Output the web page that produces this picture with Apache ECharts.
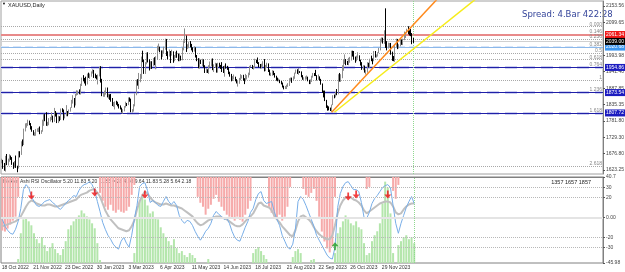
<!DOCTYPE html>
<html>
<head>
<meta charset="utf-8">
<script src="https://cdn.jsdelivr.net/npm/echarts@6/dist/echarts.min.js"></script>
<style>html,body{margin:0;padding:0;background:#fff}#chart{width:625px;height:272px}</style>
</head>
<body>
<div id="chart"></div>
<script>
// XAUUSD daily bars, 18 Oct 2022 .. 4 Jan 2024
var firstOpen = 1650;
var closes = [
  1652,1629,1627,1657,1649,1652,1665,1663,1644,1633,
  1647,1635,1629,1681,1676,1712,1706,1755,1771,1771,1778,1774,1761,1751,1738,1740,1750,1755,1755,1741,1750,1768,
  1803,1797,1769,1771,1787,1789,1797,1781,1810,1807,1777,1793,1788,1817,1814,1792,1798,1813,1804,1815,1824,
  1839,1855,1833,1866,1872,1876,1875,1898,1920,1916,1909,1904,1932,1926,1931,1937,1946,1930,1928,1923,1928,
  1951,1912,1865,1867,1873,1875,1861,1865,1854,1853,1835,1836,1842,1841,1834,1825,1822,1811,1817,1827,
  1837,1836,1856,1847,1813,1815,1831,1868,1913,1904,1918,1920,1989,1978,1940,1970,1993,1978,1956,1973,1964,1980,1969,
  1984,2020,2021,2008,1992,2004,2015,2040,2004,1995,2005,1996,2004,1983,1989,1998,1990,1988,1990,
  1982,2016,2039,2050,2017,2021,2034,2030,2015,2011,2017,1989,1982,1958,1977,1971,1975,1957,1941,1946,1943,1959,1963,
  1978,1948,1962,1963,1940,1966,1961,1957,1943,1942,1958,1957,1951,1936,1932,1913,1921,1923,1913,1907,1908,1919,
  1921,1926,1915,1911,1925,1925,1932,1957,1961,1955,1955,1979,1976,1969,1962,1954,1965,1972,1946,1959,1965,
  1944,1934,1934,1943,1936,1925,1915,1912,1914,1907,1902,1892,1889,1889,1895,1899,1915,1917,1914,1920,1937,1942,1940,
  1940,1939,1926,1916,1919,1919,1922,1913,1908,1910,1924,1933,1931,1930,1919,1925,1916,1901,1875,1864,1848,
  1827,1822,1821,1820,1833,1862,1861,1874,1868,1932,1919,1923,1948,1974,1981,1972,1970,1979,1985,2006,1996,1983,
  1982,1985,1992,1978,1969,1950,1958,1940,1946,1963,1959,1981,1980,1978,2007,1990,1992,2002,2013,2041,2044,2036,
  2072,2029,2019,2025,2028,2004,1982,1980,2027,2036,2019,2027,2040,2031,2045,2053,2067,2077,2065,2063,
  2059,2042,2039
];
var highs = [
  1660,1656,1646,1669,1675,1660,1674,1670,1665,1648,
  1652,1670,1637,1684,1684,1716,1722,1757,1774,1775,1786,1783,1775,1765,1752,1745,1756,1758,1760,1764,1752,1786,
  1805,1804,1810,1779,1791,1795,1810,1799,1824,1814,1808,1799,1797,1822,1823,1819,1804,1833,1814,1819,1826,
  1850,1865,1856,1869,1881,1880,1884,1902,1922,1930,1921,1925,1935,1938,1935,1942,1949,1947,1935,1930,1932,
  1957,1959,1918,1873,1880,1890,1890,1870,1868,1869,1856,1843,1845,1847,1844,1837,1832,1825,1820,1830,
  1844,1840,1858,1858,1854,1820,1836,1871,1915,1917,1937,1934,1990,2009,1980,1972,2003,2004,1981,1975,1975,1985,1988,
  1991,2025,2032,2022,2010,2010,2022,2048,2047,2007,2013,2008,2012,2007,1995,2005,2009,2000,1998,
  1993,2020,2042,2081,2058,2030,2037,2040,2031,2020,2023,2020,1995,1985,1984,1980,1983,1981,1962,1952,1949,1962,1974,
  1983,1984,1965,1970,1968,1970,1970,1963,1972,1959,1961,1968,1960,1955,1941,1934,1927,1932,1925,1917,1912,1921,
  1933,1930,1931,1920,1934,1930,1938,1960,1963,1963,1959,1983,1980,1987,1972,1966,1967,1975,1982,1963,1970,
  1968,1948,1938,1946,1944,1937,1928,1922,1919,1915,1911,1906,1896,1895,1899,1904,1920,1922,1922,1926,1938,1948,1949,
  1953,1943,1942,1930,1923,1926,1929,1925,1915,1916,1928,1937,1937,1947,1930,1932,1926,1918,1903,1880,1880,
  1850,1832,1829,1825,1835,1865,1867,1876,1885,1933,1937,1933,1962,1980,1997,1982,1976,1986,1989,2009,2009,2008,
  1990,1993,2004,1994,1980,1972,1962,1961,1948,1972,1970,1983,1993,1984,2008,2008,1997,2004,2018,2048,2052,2051,
  2075,2146,2040,2035,2034,2034,2006,1992,2030,2048,2047,2030,2047,2045,2048,2071,2069,2080,2088,2075,
  2079,2066,2050
];
var lows = [
  1645,1627,1621,1618,1639,1638,1650,1656,1640,1627,
  1631,1630,1616,1628,1664,1672,1700,1704,1748,1760,1766,1768,1754,1747,1735,1733,1734,1747,1746,1739,1740,1747,
  1766,1781,1766,1765,1768,1780,1785,1777,1779,1796,1775,1775,1781,1785,1810,1784,1790,1797,1797,1803,1812,
  1826,1838,1825,1832,1864,1866,1868,1867,1895,1910,1903,1896,1900,1921,1918,1925,1935,1921,1920,1916,1900,
  1926,1906,1862,1860,1860,1867,1858,1853,1850,1844,1830,1827,1819,1834,1829,1822,1819,1809,1805,1813,
  1825,1830,1833,1844,1810,1809,1812,1829,1865,1896,1885,1907,1918,1972,1934,1934,1965,1971,1945,1950,1950,1960,1962,
  1949,1980,2009,2004,1981,1989,2000,2012,1992,1981,1990,1969,1993,1970,1975,1986,1986,1975,1975,
  1977,1978,2010,2034,2005,2014,2017,2020,2010,2004,2006,1987,1975,1952,1951,1966,1959,1955,1937,1937,1937,1934,1955,
  1958,1946,1940,1953,1938,1938,1955,1950,1940,1937,1925,1951,1947,1933,1925,1910,1911,1916,1910,1903,1893,1902,
  1913,1919,1912,1901,1910,1916,1922,1930,1955,1950,1948,1953,1969,1966,1955,1952,1952,1957,1942,1943,1953,
  1940,1929,1927,1928,1930,1922,1912,1910,1910,1904,1900,1890,1884,1885,1885,1892,1895,1910,1905,1912,1918,1935,1934,
  1931,1937,1923,1915,1913,1915,1916,1910,1901,1901,1908,1922,1927,1927,1913,1915,1912,1899,1873,1858,1846,
  1824,1815,1816,1814,1810,1834,1855,1858,1865,1868,1909,1908,1920,1944,1966,1962,1963,1962,1970,1977,1990,1980,
  1970,1975,1983,1975,1961,1947,1946,1938,1932,1938,1956,1954,1975,1965,1975,1987,1987,1990,2001,2010,2036,2032,
  2031,2018,2010,2016,2019,1996,1976,1975,1973,2020,2014,2016,2023,2028,2027,2043,2050,2065,2062,2058,
  2056,2030,2034
];
var holidays = ['2022-12-26', '2023-01-02', '2023-04-07', '2023-12-25', '2024-01-01'];
var xTickLabels = ['18 Oct 2022', '21 Nov 2022', '23 Dec 2022', '30 Jan 2023', '3 Mar 2023', '6 Apr 2023',
  '11 May 2023', '14 Jun 2023', '18 Jul 2023', '21 Aug 2023', '22 Sep 2023', '26 Oct 2023', '29 Nov 2023'];
var priceTicks = [2153.56, 2099.65, 1993.98, 1941.40, 1887.85, 1835.35, 1781.80, 1729.30, 1676.80, 1623.25];

// fibonacci grid drawn on the chart
var fibHigh = 2086.5, fibLow = 1914.2;
var fibLevels = [0, 0.146, 0.236, 0.382, 0.5, 0.618, 0.764, 1, 1.236, 1.618, 2.618];
var fibNames = ['0.000', '0.146', '0.236', '0.382', '0.5', '0.618', '0.764', '1', '1.236', '1.618', '2.618'];

// trend lines: [bar index, price]
var orangeLine = [[250, 1810], [340, 2222]];
var yellowLine = [[252, 1810], [360, 2179]];

// oscillator, one point per 2 bars
var blueLine = [-2,-9,-13,-16,-17,-12,-4,9,28,33,30,21,16,12,11,13,16,17,18,15,13,10,8,11,14,17,19,22,21,27,
  31,33,34,36,33,27,16,6,-5,-12,-18,-22,-27,-30,-32,-24,-20,-26,-30,-18,-2,12,31,34,35,27,15,17,15,12,
  11,16,21,16,13,16,12,2,-3,-6,-3,-4,-8,-14,-19,-23,-19,-14,-11,-6,2,6,3,1,-2,-1,-6,-14,-20,-23,
  -24,-17,-10,-4,5,9,18,24,26,17,14,15,16,6,-2,-8,-18,-24,-30,-32,-27,-12,16,21,18,12,5,-2,-9,-18,
  -23,-28,-33,-38,-41,-42,-30,10,24,31,35,36,32,28,28,26,15,0,-1,5,14,19,22,26,30,32,33,30,12,-6,
  -16,-6,2,10,16,21,14];
var greyLine = [-9,-8,-7,-6,-5,-4,-2,1,6,11,15,17,16,14,13,12,12,13,13,12,11,11,12,13,14,15,16,17,18,21,
  23,24,25,27,28,28,25,21,14,7,2,-2,-5,-8,-11,-12,-13,-14,-13,-9,-3,8,16,22,26,24,20,17,15,14,
  13,13,14,13,12,12,11,10,9,7,5,3,1,-3,-6,-8,-7,-5,-3,-2,0,1,1,0,-1,-2,-4,-6,-8,-9,
  -9,-7,-4,-1,1,4,9,14,15,12,11,10,7,2,-2,-5,-9,-12,-15,-18,-19,-13,-4,1,2,0,-2,-5,-10,-14,
  -17,-19,-21,-22,-22,-18,-8,4,12,17,20,21,20,18,17,15,12,7,4,6,8,10,12,14,15,16,16,15,11,5,
  3,4,8,11,13,14,14];
var redHist = [54,55,52,48,44,40,20,0,0,0,0,0,0,0,0,0,0,0,0,0,0,0,0,0,0,0,0,0,0,0,
  0,0,0,0,0,0,0,16,24,30,33,28,34,36,33,35,36,34,30,18,8,0,0,0,0,0,0,0,0,0,
  0,0,0,0,0,0,0,0,0,0,0,0,0,0,20,26,30,38,32,28,22,18,25,30,34,38,40,42,44,40,
  43,45,38,32,24,0,0,0,0,0,0,30,36,40,42,38,44,40,30,10,0,0,0,0,12,18,20,16,12,24,
  40,55,65,72,76,70,20,0,0,0,0,0,0,0,0,0,0,0,12,10,0,0,0,0,0,0,0,0,14,22,
  8,0,0,0,0,0,0];
var greenHist = [0,0,0,0,0,0,4,30,44,45,42,38,30,24,20,26,18,12,16,20,14,10,8,14,22,34,38,42,45,48,
  53,50,47,44,40,35,20,3,0,0,0,0,0,0,0,0,0,0,0,0,10,45,62,68,64,58,50,52,46,44,
  36,30,26,22,18,24,15,10,12,8,6,10,8,5,0,0,0,0,4,0,0,0,0,0,0,0,0,0,0,0,
  0,0,0,0,0,10,14,16,12,8,4,0,0,0,0,0,0,0,0,0,6,12,14,10,0,0,0,3,4,0,
  0,0,0,0,0,0,10,30,36,42,48,44,40,38,42,36,34,20,8,10,22,28,32,40,60,82,76,50,10,0,
  18,22,26,28,24,26,20];
var sellArrows = [[11, 22], [35, 25], [54, 23], [131, 21], [134, 23], [146, 23]];
var buyArrows = [[126, -29]];
var oscTicks = [40.7, 30, 20, 0, -20, -30, -45.98];
var oscLevels = [30, 20, -20, -30];

var FONT = 'Liberation Sans';
var MONTHS = ['Jan','Feb','Mar','Apr','May','Jun','Jul','Aug','Sep','Oct','Nov','Dec'];
var TOTAL_SLOTS = 456;

// trading-day calendar for the category axis
var days = [];
var d = new Date(Date.UTC(2022, 9, 18));
while (days.length < closes.length) {
  var wd = d.getUTCDay();
  if (wd !== 0 && wd !== 6 && holidays.indexOf(d.toISOString().slice(0, 10)) < 0) {
    days.push(d.getUTCDate() + ' ' + MONTHS[d.getUTCMonth()] + ' ' + d.getUTCFullYear());
  }
  d.setUTCDate(d.getUTCDate() + 1);
}
var cats = days.slice();
for (var i = days.length; i < TOTAL_SLOTS; i++) cats.push('f' + i);
var oscCats = [];
for (var j = 0; j < TOTAL_SLOTS / 2; j++) oscCats.push('j' + j);

// open = previous close
var candles = closes.map(function (c, i) {
  var o = i === 0 ? firstOpen : closes[i - 1];
  return [o, c, Math.min(lows[i], o, c), Math.max(highs[i], o, c)];
});
var lastIdx = closes.length - 1;
var lastOsc = blueLine.length - 1;

function fibPrice(f) { return fibHigh - f * (fibHigh - fibLow); }

function boxLine(f, color, bg, width) {
  var p = fibPrice(f);
  return {
    yAxis: p,
    lineStyle: { color: color, width: width, type: 'solid' },
    label: { show: true, position: 'end', distance: 2, formatter: p.toFixed(2),
      backgroundColor: bg, color: '#fff', fontSize: 5, fontFamily: FONT, padding: [1, 1] }
  };
}

var chart = echarts.init(document.getElementById('chart'));
var option = {
  animation: false,
  backgroundColor: '#fff',
  grid: [
    { left: 1, top: 1, width: 602, height: 173, show: true, borderColor: '#a0a0a0', borderWidth: 1, outerBoundsMode: 'none' },
    { left: 1, top: 177, width: 602, height: 86, show: true, borderColor: '#808080', borderWidth: 1, outerBoundsMode: 'none' }
  ],
  xAxis: [
    { type: 'category', gridIndex: 0, data: cats, axisLine: { show: false }, axisTick: { show: false }, axisLabel: { show: false }, splitLine: { show: false } },
    { type: 'category', gridIndex: 1, data: oscCats, show: false },
    { type: 'category', gridIndex: 1, data: cats, position: 'bottom',
      axisLine: { lineStyle: { color: '#808080' } },
      axisTick: { length: 2, lineStyle: { color: '#555' }, interval: function (i, v) { return xTickLabels.indexOf(v) >= 0; } },
      axisLabel: { fontSize: 5, fontFamily: FONT, color: '#333', margin: 2, align: 'left',
        interval: function (i, v) { return xTickLabels.indexOf(v) >= 0; } },
      splitLine: { show: false } }
  ],
  yAxis: [
    { type: 'value', gridIndex: 0, position: 'right', min: 1610.3, max: 2169.7, scale: true,
      axisLine: { show: true, lineStyle: { color: '#808080' } },
      axisTick: { show: true, length: 2, customValues: priceTicks, lineStyle: { color: '#555' } },
      axisLabel: { customValues: priceTicks, fontSize: 5, fontFamily: FONT, color: '#444', margin: 3,
        formatter: function (v) { return v.toFixed(2); } },
      splitLine: { show: false } },
    { type: 'value', gridIndex: 1, position: 'right', min: -45.98, max: 40.7,
      axisLine: { show: true, lineStyle: { color: '#808080' } },
      axisTick: { show: true, length: 2, customValues: oscTicks, lineStyle: { color: '#555' } },
      axisLabel: { customValues: oscTicks, fontSize: 5, fontFamily: FONT, color: '#444', margin: 3,
        formatter: function (v) { return v === 0 ? '0.00' : String(v); } },
      splitLine: { show: false } },
    { type: 'value', gridIndex: 1, inverse: true, min: 0, max: 86.68, show: false },
    { type: 'value', gridIndex: 1, min: 0, max: 86.68, show: false }
  ],
  series: [
    {
      type: 'line', xAxisIndex: 0, yAxisIndex: 0, data: [], silent: true,
      markLine: {
        silent: true, symbol: ['none', 'none'], animation: false,
        lineStyle: { color: '#a8a8a8', type: 'dotted', width: 1 },
        label: { show: true, position: 'insideEndTop', distance: [1, 0], fontSize: 5, fontFamily: FONT, color: '#888' },
        data: fibLevels.map(function (f, i) {
          return { yAxis: fibPrice(f), label: { formatter: fibNames[i] } };
        })
      }
    },
    {
      type: 'line', xAxisIndex: 0, yAxisIndex: 0, data: [], silent: true,
      markLine: {
        silent: true, symbol: ['none', 'none'], animation: false,
        data: [
          { yAxis: fibPrice(0.764), lineStyle: { color: '#cdd0f0', width: 3 }, label: { show: false } },
          { yAxis: fibPrice(1.236), lineStyle: { color: '#cdd0f0', width: 3 }, label: { show: false } },
          { yAxis: fibPrice(1.618), lineStyle: { color: '#cdd0f0', width: 3 }, label: { show: false } },
          { yAxis: fibPrice(0.382), lineStyle: { color: '#d8e6f8', width: 2 }, label: { show: false } }
        ]
      }
    },
    {
      type: 'line', xAxisIndex: 0, yAxisIndex: 0, data: [], silent: true, z: 4,
      markLine: {
        silent: true, symbol: ['none', 'none'], animation: false,
        data: [
          boxLine(0.146, '#e88a8a', '#f01818', 2),
          boxLine(0.382, '#8cb8ea', '#3c96f0', 1),
          boxLine(0.764, '#2020a8', '#1c1cc0', 1.2),
          boxLine(1.236, '#2020a8', '#1c1cc0', 1.2),
          boxLine(1.618, '#2020a8', '#1c1cc0', 1.2),
          { yAxis: closes[lastIdx], lineStyle: { color: '#d0d0d0', width: 1, type: 'solid' },
            label: { show: true, position: 'end', distance: 2, formatter: closes[lastIdx].toFixed(2),
              backgroundColor: '#000', color: '#fff', fontSize: 5, fontFamily: FONT, padding: [1, 1] } }
        ]
      }
    },
    {
      type: 'candlestick', xAxisIndex: 0, yAxisIndex: 0, data: candles, barWidth: 1, z: 5,
      itemStyle: { color: '#8e8e8e', color0: '#000', borderColor: '#8e8e8e', borderColor0: '#000', borderWidth: 1 },
      markLine: {
        silent: true, symbol: ['none', 'none'], animation: false,
        lineStyle: { color: '#8fd88f', type: 'dotted', width: 1 },
        label: { show: false },
        data: [{ xAxis: lastIdx }]
      }
    },
    { type: 'line', xAxisIndex: 0, yAxisIndex: 0, data: orangeLine, showSymbol: false, z: 6,
      lineStyle: { color: '#ff8a1c', width: 1.5 } },
    { type: 'line', xAxisIndex: 0, yAxisIndex: 0, data: yellowLine, showSymbol: false, z: 6,
      lineStyle: { color: '#f6ec1a', width: 1.5 } },

    { type: 'bar', xAxisIndex: 1, yAxisIndex: 2, data: redHist, barWidth: 2, barGap: '-100%',
      itemStyle: { color: '#f6aaaa' } },
    { type: 'bar', xAxisIndex: 1, yAxisIndex: 3, data: greenHist, barWidth: 2, barGap: '-100%',
      itemStyle: { color: '#b4e6ac' } },
    { type: 'line', xAxisIndex: 1, yAxisIndex: 1, data: greyLine, showSymbol: false, z: 3,
      lineStyle: { color: '#c0c0c0', width: 2 },
      markLine: {
        silent: true, symbol: ['none', 'none'], animation: false, label: { show: false },
        data: oscLevels.map(function (v) {
          return { yAxis: v, lineStyle: { color: '#b8b8b8', type: 'dotted', width: 1 } };
        }).concat([{ yAxis: 0, lineStyle: { color: '#e4e4e4', type: 'solid', width: 2 } },
          { xAxis: lastOsc, lineStyle: { color: '#8fd88f', type: 'dotted', width: 1 } }])
      } },
    { type: 'line', xAxisIndex: 1, yAxisIndex: 1, data: blueLine, showSymbol: false, z: 4,
      lineStyle: { color: '#78aee8', width: 1 } },
    { type: 'scatter', xAxisIndex: 1, yAxisIndex: 1, data: sellArrows, z: 6,
      symbol: 'path://M3,0 L5,0 L5,5 L8,5 L4,10 L0,5 L3,5 Z', symbolSize: [7, 8],
      itemStyle: { color: '#f01010' } },
    { type: 'scatter', xAxisIndex: 1, yAxisIndex: 1, data: buyArrows, z: 6,
      symbol: 'path://M3,10 L5,10 L5,5 L8,5 L4,0 L0,5 L3,5 Z', symbolSize: [7, 8],
      itemStyle: { color: '#22a022' } }
  ],
  graphic: [
    { type: 'text', left: 2, top: 2, style: { text: '▼', fontSize: 4, fill: '#000' } },
    { type: 'text', left: 8, top: 2, style: { text: 'XAUUSD,Daily', fontSize: 5.5, fontFamily: FONT, fill: '#222' } },
    { type: 'text', left: 522, top: 10, style: { text: 'Spread: 4.Bar 422:28', fontSize: 8.5, fontFamily: 'DejaVu Sans', fill: '#34449a' } },
    { type: 'text', left: 3, top: 179, style: { text: 'Heiken Ashi RSI Oscillator 5.20 11.83 5.20 11.83 = 28 4.08 9.64 11.83 5.28 5.64 2.18', fontSize: 5, fontFamily: FONT, fill: '#333' } },
    { type: 'text', right: 34, top: 179, style: { text: '1357 1657 1857', fontSize: 5.5, fontFamily: FONT, fill: '#222' } }
  ]
};
chart.setOption(option);
</script>
</body>
</html>
